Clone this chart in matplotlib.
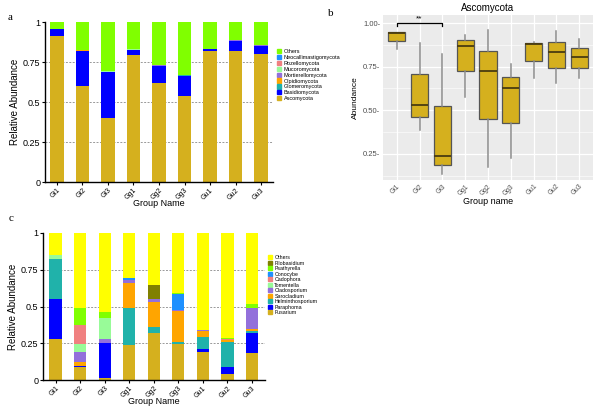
import numpy as np
import matplotlib
matplotlib.use('Agg')
import matplotlib.pyplot as plt
from matplotlib.patches import Patch

plt.rcParams['font.family'] = ['Liberation Sans', 'DejaVu Sans']

groups = ['Gi1', 'Gi2', 'Gi3', 'Gg1', 'Gg2', 'Gg3', 'Gu1', 'Gu2', 'Gu3']

# 图a 门水平
phyla = ['Ascomycota', 'Basidiomycota', 'Glomeromycota', 'Olpidiomycota', 'Mortierellomycota',
         'Mucoromycota', 'Rozellomycota', 'Neocallimastigomycota', 'Others']
phyla_colors = ['#D5B01E', '#0000FF', '#20B2AA', '#FFA500', '#9370DB',
                '#98FB98', '#F08080', '#1E90FF', '#80FF00']
ascomycota = [0.914, 0.602, 0.398, 0.794, 0.619, 0.538, 0.821, 0.817, 0.802]
basidiomycota = [0.040, 0.217, 0.287, 0.031, 0.108, 0.127, 0.010, 0.066, 0.050]
glomeromycota = [0.001, 0.002, 0.001, 0.001, 0.001, 0.001, 0.001, 0.001, 0.001]
olpidiomycota = [0.000, 0.001, 0.000, 0.001, 0.000, 0.000, 0.000, 0.000, 0.000]
mortierellomycota = [0.001, 0.001, 0.002, 0.001, 0.001, 0.001, 0.001, 0.001, 0.001]
mucoromycota = [0.001, 0.001, 0.003, 0.001, 0.001, 0.001, 0.000, 0.001, 0.001]
rozellomycota = [0.000, 0.001, 0.000, 0.000, 0.000, 0.000, 0.000, 0.000, 0.000]
neocallimastigomycota = [0.000, 0.003, 0.001, 0.000, 0.000, 0.000, 0.000, 0.000, 0.000]

# 图b 箱线图 (Ascomycota)
box_low = [0.853, 0.389, 0.137, 0.575, 0.175, 0.227, 0.687, 0.659, 0.687]
box_q1 = [0.895, 0.461, 0.187, 0.724, 0.448, 0.427, 0.781, 0.745, 0.745]
box_med = [0.940, 0.531, 0.236, 0.870, 0.726, 0.627, 0.878, 0.836, 0.804]
box_q3 = [0.947, 0.709, 0.526, 0.901, 0.842, 0.693, 0.884, 0.893, 0.855]
box_high = [0.947, 0.888, 0.821, 0.933, 0.960, 0.764, 0.889, 0.954, 0.907]

# 图c 属水平
genera = ['Fusarium', 'Paraphoma', 'Helminthosporium', 'Sarocladium', 'Cladosporium', 'Tomentella',
          'Cadophora', 'Conocybe', 'Psathyrella', 'Filobasidium', 'Others']
genera_colors = ['#D5B01E', '#0000FF', '#20B2AA', '#FFA500', '#9370DB', '#98FB98',
                 '#F08080', '#1E90FF', '#80FF00', '#808000', '#FFFF00']
fusarium = [0.277, 0.086, 0.011, 0.239, 0.318, 0.248, 0.193, 0.041, 0.182]
paraphoma = [0.277, 0.007, 0.239, 0.000, 0.000, 0.000, 0.018, 0.045, 0.141]
helminthosporium = [0.269, 0.000, 0.003, 0.252, 0.043, 0.008, 0.082, 0.171, 0.011]
sarocladium = [0.000, 0.032, 0.000, 0.168, 0.173, 0.216, 0.043, 0.013, 0.011]
cladosporium = [0.000, 0.064, 0.026, 0.023, 0.016, 0.003, 0.004, 0.000, 0.148]
tomentella = [0.027, 0.056, 0.144, 0.000, 0.000, 0.002, 0.000, 0.000, 0.000]
cadophora = [0.000, 0.132, 0.000, 0.000, 0.000, 0.000, 0.000, 0.007, 0.000]
conocybe = [0.000, 0.000, 0.000, 0.013, 0.000, 0.110, 0.000, 0.000, 0.000]
psathyrella = [0.000, 0.112, 0.041, 0.000, 0.000, 0.007, 0.000, 0.007, 0.027]
filobasidium = [0.000, 0.000, 0.000, 0.000, 0.095, 0.000, 0.000, 0.000, 0.000]

W, H = 600, 407
fig = plt.figure(figsize=(6, 4.07), dpi=100)


def px_axes(x0, y0, x1, y1):
    return fig.add_axes([x0 / W, 1 - y1 / H, (x1 - x0) / W, (y1 - y0) / H])


def stacked(ax, layers, colors, labels, width, xlim, leg_pos, leg_size, leg_space):
    x = np.arange(len(groups))
    bottom = np.zeros(len(groups))
    for vals, c in zip(layers, colors):
        ax.bar(x, vals, width, bottom=bottom, color=c, linewidth=0)
        bottom += np.array(vals)
    ax.bar(x, 1 - bottom, width, bottom=bottom, color=colors[-1], linewidth=0)
    ax.set_xlim(*xlim)
    ax.set_ylim(0, 1)
    ax.set_yticks([0, 0.25, 0.5, 0.75, 1])
    ax.set_yticklabels(['0', '0.25', '0.5', '0.75', '1'], fontsize=6.5)
    for yv in [0.25, 0.5, 0.75]:
        ax.axhline(yv, color='#999999', linestyle=(0, (2, 1.5)), linewidth=0.7, zorder=0)
    ax.set_xticks(x)
    ax.set_xticklabels(groups, rotation=45, fontsize=5, ha='right', rotation_mode='anchor')
    ax.tick_params(length=2, width=0.8, pad=1.5)
    for s in ['top', 'right']:
        ax.spines[s].set_visible(False)
    for s in ['left', 'bottom']:
        ax.spines[s].set_linewidth(1)
    ax.set_ylabel('Relative Abundance', fontsize=7, labelpad=2)
    ax.set_xlabel('Group Name', fontsize=6.5, labelpad=-1.5)
    handles = [Patch(color=c, label=l) for c, l in zip(colors, labels)][::-1]
    fig.legend(handles=handles, loc='upper left', bbox_to_anchor=leg_pos, frameon=False,
               fontsize=leg_size, handlelength=0.8, handleheight=0.8, handletextpad=0.4,
               labelspacing=leg_space, borderpad=0, borderaxespad=0)


# 图a
axa = px_axes(45, 22, 273, 182)
stacked(axa, [ascomycota, basidiomycota, glomeromycota, olpidiomycota, mortierellomycota,
              mucoromycota, rozellomycota, neocallimastigomycota],
        phyla_colors, phyla, 0.53, (-0.47, 8.47), (277 / W, 1 - 49 / H), 4, 0.15)
fig.text(8 / W, 1 - 17 / H, 'a', family='Liberation Serif', fontsize=8, va='center')

# 图c
axc = px_axes(43, 233, 265, 380)
stacked(axc, [fusarium, paraphoma, helminthosporium, sarocladium, cladosporium, tomentella,
              cadophora, conocybe, psathyrella, filobasidium],
        genera_colors, genera, 0.5, (-0.51, 8.53), (268 / W, 1 - 255 / H), 3.8, 0.1)
fig.text(9 / W, 1 - 219 / H, 'c', family='Liberation Serif', fontsize=8, va='center')

# 图b
axb = px_axes(383, 15, 593, 180)
axb.set_facecolor('#EBEBEB')
stats = []
for i in range(len(groups)):
    stats.append(dict(whislo=box_low[i], q1=box_q1[i], med=box_med[i], q3=box_q3[i],
                      whishi=box_high[i], fliers=[]))
pos = np.arange(1, len(groups) + 1)
axb.bxp(stats, positions=pos, widths=0.75, patch_artist=True, showcaps=False, showfliers=False,
        boxprops=dict(facecolor='#D5B01E', edgecolor='#555555', linewidth=0.9),
        medianprops=dict(color='#4A3C10', linewidth=1.3),
        whiskerprops=dict(color='#8C8C8C', linewidth=1.1), zorder=3)
axb.set_xlim(0.4, 9.6)
axb.set_ylim(0.10, 1.046)
axb.set_yticks([0.25, 0.5, 0.75, 1.0])
axb.set_yticklabels(['0.25-', '0.50-', '0.75-', '1.00-'], fontsize=5.5, color='#4D4D4D')
axb.set_yticks([0.125, 0.375, 0.625, 0.875], minor=True)
axb.set_xticks(pos)
axb.set_xticklabels(groups, rotation=45, fontsize=4.8, color='#4D4D4D', ha='right',
                    rotation_mode='anchor')
axb.tick_params(length=0, pad=2)
axb.tick_params(which='minor', length=0)
axb.grid(True, which='major', color='white', linewidth=0.9)
axb.grid(True, which='minor', axis='y', color='white', linewidth=0.4)
axb.set_axisbelow(True)
for s in axb.spines.values():
    s.set_visible(False)
axb.set_title('Ascomycota', fontsize=7, pad=3)
axb.set_ylabel('Abundance', fontsize=6, labelpad=3)
axb.set_xlabel('Group name', fontsize=6.5, labelpad=0)
axb.plot([1, 1, 3, 3], [0.983, 1.0, 1.0, 0.983], color='black', linewidth=0.9, zorder=4)
axb.text(2, 1.005, '**', ha='center', va='bottom', fontsize=6)
fig.text(328 / W, 1 - 13 / H, 'b', family='Liberation Serif', fontsize=8, va='center')

fig.savefig('out.png', dpi=100)
